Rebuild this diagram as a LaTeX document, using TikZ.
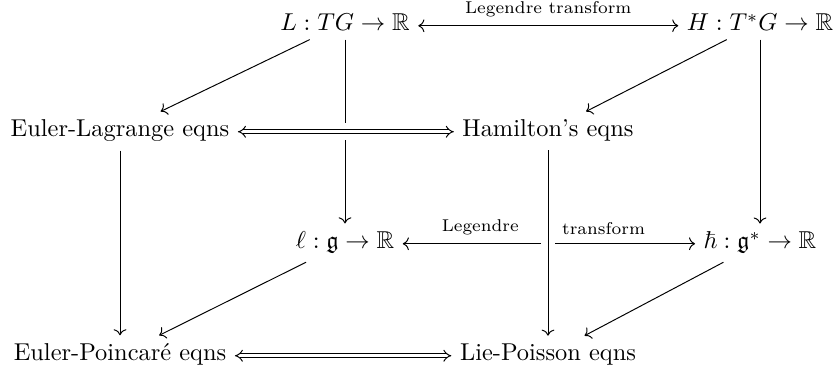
\documentclass[tikz,border=0pt]{standalone}
\usepackage{amsmath,amssymb}
\usetikzlibrary{arrows.meta}
\tikzset{
  obj/.style={anchor=base, inner sep=0.3333em},
  map/.style={-To},
  lmap/.style={To-To},
  equiv/.style={double, double distance=1.3pt, {Implies}-{Implies}},
  over/.style={preaction={draw=white, -, line width=#1}},
  lab/.style={font=\scriptsize, above},
}

\begin{document}
\begin{tikzpicture}[x=0.014405cm, y=-0.014405cm]
  \useasboundingbox (0,0) rectangle (835,375);

  % back face: group level
  \node[obj] (L)   at (345,31)  {$L : TG \to \mathbb{R}$};
  \node[obj] (H)   at (760,31)  {$H : T^*G \to \mathbb{R}$};
  \node[obj] (EL)  at (120,137) {Euler-Lagrange eqns};
  \node[obj] (Ham) at (548,137) {Hamilton's eqns};

  % front face: algebra level
  \node[obj] (l)   at (345,249) {$\ell : \mathfrak{g} \to \mathbb{R}$};
  \node[obj] (h)   at (760,249) {$\hbar : \mathfrak{g}^* \to \mathbb{R}$};
  \node[obj] (EP)  at (120,361) {Euler-Poincar\'e eqns};
  \node[obj] (LP)  at (548,361) {Lie-Poisson eqns};

  % top edges
  \draw[lmap] (L.mid east) -- node[lab] {Legendre transform} (H.mid west);
  \draw[map] (L) -- (EL);
  \draw[map] (H) -- (Ham);

  % reduction, back
  \draw[map] (L) -- (l);
  \draw[equiv, over=7pt] (EL.mid east) -- (Ham.mid west);

  % reduction, front
  \draw[map] (H) -- (h);
  \draw[map] (EL) -- (EP);

  % lower face
  \draw[lmap] (l.mid east) -- node[lab, pos=0.265] {Legendre}
    node[lab, pos=0.687] {transform} (h.mid west);
  \draw[map, over=6pt] (Ham) -- (LP);
  \draw[map] (l) -- (EP);
  \draw[map] (h) -- (LP);
  \draw[equiv] (EP.mid east) -- (LP.mid west);
\end{tikzpicture}
\end{document}
